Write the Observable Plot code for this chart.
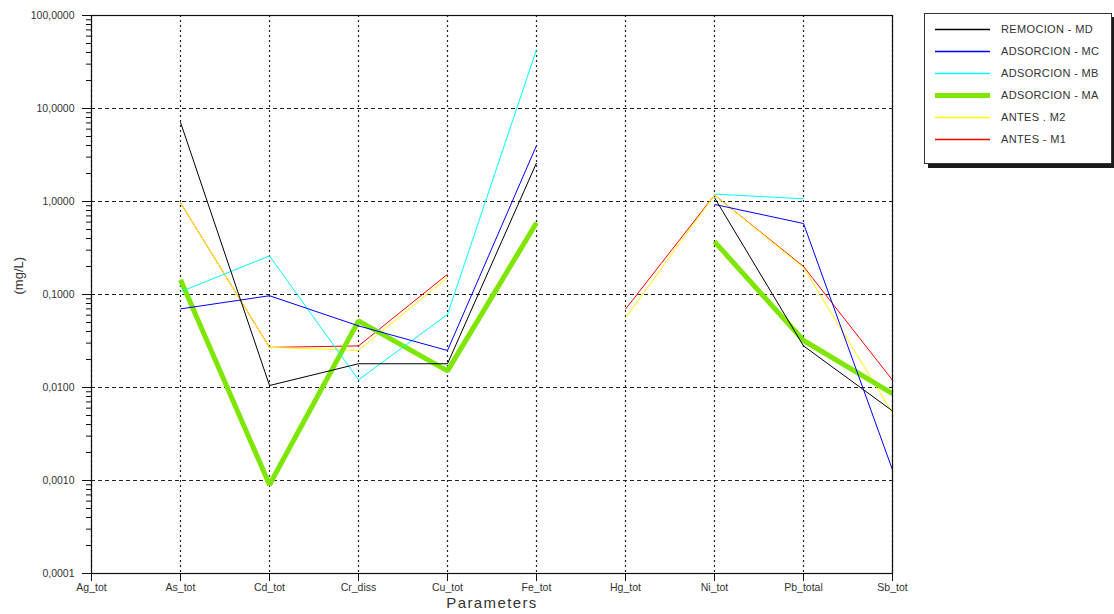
<!DOCTYPE html>
<html>
<head>
<meta charset="utf-8">
<script src="https://cdn.jsdelivr.net/npm/d3@7"></script>
<script src="https://cdn.jsdelivr.net/npm/@observablehq/plot@0.6"></script>
<style>
  body { margin: 0; background: #fff; font-family: "Liberation Sans", Arial, sans-serif; }
  #wrap { position: relative; width: 1114px; height: 614px; overflow: hidden; }
  #chart svg { display: block; }
  #legend { position: absolute; left: 924px; top: 13px; width: 186px; height: 149px;
            border: 1px solid #333; box-shadow: 4px 4px 0 #1a1a1a; background: #fff; }
  #legend svg { position: absolute; left: 0; top: 0; }
  .lbl { position: absolute; left: 76px; font-size: 11px; color: #333; letter-spacing: 0.35px;
         line-height: 14px; white-space: nowrap; }
</style>
</head>
<body>
<div id="wrap">
  <div id="chart"></div>
  <div id="legend"></div>
</div>
<script>
// ---- data ----
const categories = ["Ag_tot", "As_tot", "Cd_tot", "Cr_diss", "Cu_tot", "Fe_tot", "Hg_tot", "Ni_tot", "Pb_total", "Sb_tot"];
const seriesNames = ["REMOCION - MD", "ADSORCION - MC", "ADSORCION - MB", "ADSORCION - MA", "ANTES . M2", "ANTES - M1"];
const remocionMD  = [null, 7.1,   0.0105, 0.018,  0.018,  2.6,  null,   1.1,  0.028, 0.0056];
const adsorcionMC = [null, 0.07,  0.097,  0.046,  0.025,  4.0,  null,   0.93, 0.58,  0.0013];
const adsorcionMB = [null, 0.107, 0.26,   0.0121, 0.061,  43,   null,   1.2,  1.07,  null];
const adsorcionMA = [null, 0.144, 0.0009, 0.052,  0.0151, 0.59, null,   0.37, 0.032, 0.0086];
const antesM2     = [null, 0.97,  0.027,  0.025,  0.152,  null, 0.056,  1.17, 0.195, 0.0053];
const antesM1     = [null, 0.97,  0.027,  0.028,  0.165,  null, 0.0695, 1.17, 0.2,   0.012];
const yTicks = [0.0001, 0.001, 0.01, 0.1, 1, 10, 100];

// ---- styling ----
const seriesValues = [remocionMD, adsorcionMC, adsorcionMB, adsorcionMA, antesM2, antesM1];
const seriesColors = ["#000000", "#0000ff", "#00ffff", "#7ee600", "#ffff00", "#ff0000"];
const seriesWidths = [1, 1, 1, 5, 1, 1];

const rows = seriesNames.flatMap((name, s) =>
  categories.map((cat, i) => ({series: name, cat, value: seriesValues[s][i]})));

const minorTicks = [];
for (let e = -4; e < 2; e++) for (let k = 2; k <= 9; k++) minorTicks.push(+(k * Math.pow(10, e)).toPrecision(3));

const fmt = d => d.toFixed(4).replace(".", ",");

// draw order: last legend entry first
const drawOrder = [5, 4, 3, 2, 1, 0];

const plot = Plot.plot({
  width: 1114,
  height: 614,
  marginLeft: 91,
  marginRight: 222,
  marginTop: 15,
  marginBottom: 41,
  style: {fontFamily: "'Liberation Sans', Arial, sans-serif", background: "#fff", overflow: "visible"},
  x: {type: "point", domain: categories, padding: 0, label: null},
  y: {type: "log", domain: [0.0001, 100], label: null},
  marks: [
    Plot.ruleY(yTicks, {stroke: "#222", strokeDasharray: "4,3", strokeWidth: 1}),
    Plot.ruleX(categories, {stroke: "#222", strokeDasharray: "2,3", strokeWidth: 1.2}),
    ...drawOrder.map(s => Plot.line(rows.filter(d => d.series === seriesNames[s]), {
      x: "cat", y: "value", stroke: seriesColors[s], strokeWidth: seriesWidths[s],
      strokeLinejoin: "miter", strokeLinecap: "butt"
    })),
    Plot.frame({stroke: "#111", strokeWidth: 1.2}),
    Plot.axisY(minorTicks, {tickSize: 5, tickFormat: () => "", stroke: "#111"}),
    Plot.axisY(yTicks, {tickSize: 9, tickPadding: 8, tickFormat: fmt, fontSize: 10.5, stroke: "#111", fill: "#333"}),
    Plot.axisX({tickSize: 8, tickPadding: 2, fontSize: 10.5, stroke: "#111", fill: "#333"}),
    Plot.text(["(mg/L)"], {frameAnchor: "left", dx: -73, rotate: -90, fontSize: 13, fill: "#333"}),
    Plot.text(["Parameters"], {frameAnchor: "bottom", dy: 34, fontSize: 15, fill: "#333"})
  ]
});
document.getElementById("chart").appendChild(plot);
d3.select(plot).selectAll("text").filter(function() { return this.textContent === "Parameters"; })
  .style("letter-spacing", "1.4px");

// ---- legend ----
const legend = document.getElementById("legend");
const lsvg = d3.select(legend).append("svg").attr("width", 186).attr("height", 149);
seriesNames.forEach((name, i) => {
  const cy = 15 + i * 22;
  lsvg.append("line")
    .attr("x1", 10).attr("x2", 65)
    .attr("y1", cy + 0.5).attr("y2", cy + 0.5)
    .attr("stroke", seriesColors[i])
    .attr("stroke-width", seriesWidths[i] === 1 ? 1.6 : seriesWidths[i]);
  const lbl = document.createElement("div");
  lbl.className = "lbl";
  lbl.style.top = (cy - 7) + "px";
  lbl.textContent = name;
  legend.appendChild(lbl);
});
</script>
</body>
</html>
